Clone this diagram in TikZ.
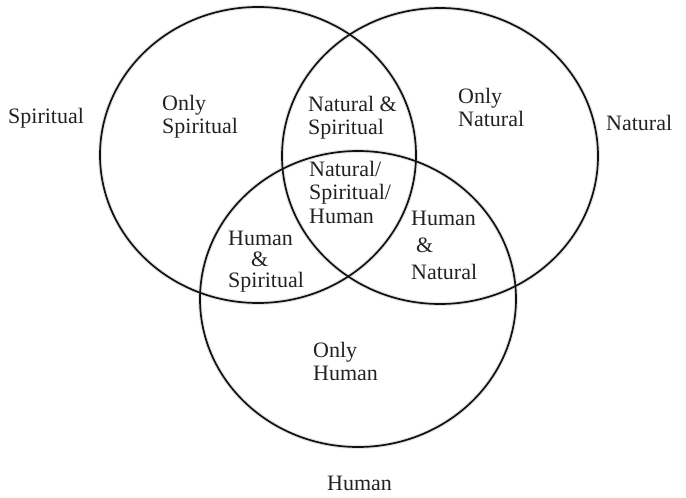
\documentclass[tikz,border=0pt]{standalone}
\usepackage{fontspec}
\setmainfont{Liberation Serif}
\usepackage{xcolor}
\usetikzlibrary{positioning}
\definecolor{ringc}{HTML}{111111}
\definecolor{shadec}{HTML}{E4E4E4}
\definecolor{textc}{HTML}{222222}
\tikzset{
  ring/.style={draw=ringc,line width=1.7pt},
  ringshade/.style={draw=shadec,line width=4pt},
  lbl/.style={font=\fontsize{22}{23.5}\selectfont,text=textc,inner sep=0pt,anchor=north west,align=left}
}
\begin{document}
\begin{tikzpicture}[x=1pt,y=-1pt]
\useasboundingbox (0,0) rectangle (686,498);
\coordinate (Sc) at (258,155); \coordinate (Nc) at (440,156); \coordinate (Hc) at (358,299);
\foreach \c in {Sc,Nc,Hc}
  \draw[ringshade,yshift=-3pt] (\c) ellipse [x radius=158,y radius=148];
\foreach \c in {Sc,Nc,Hc}
  \draw[ring] (\c) ellipse [x radius=158,y radius=148];
% set names
\node[lbl] (spir) at (8,108) {Spiritual};
\node[lbl] (natu) at (606,115) {Natural};
\node[lbl] (huma) at (327,476) {Human};
% regions
\node[lbl] (onlyS) at (162,95) {Only\\Spiritual};
\node[lbl] (onlyN) at (458,88) {Only\\Natural};
\node[lbl] (onlyH) at (313,342) {Only\\Human};
\node[lbl] (NS) at (308,96) {Natural \&\\Spiritual};
\node[lbl] (NSH) at (309,161) {Natural/\\Spiritual/\\Human};
\node[lbl,font=\fontsize{22}{21}\selectfont] (HS) at (228,231) {Human\\\hspace*{23pt}\&\\Spiritual};
\node[lbl,font=\fontsize{22}{27}\selectfont] (HN) at (411,211) {Human\\\hspace*{5pt}\&\\Natural};
\end{tikzpicture}
\end{document}
